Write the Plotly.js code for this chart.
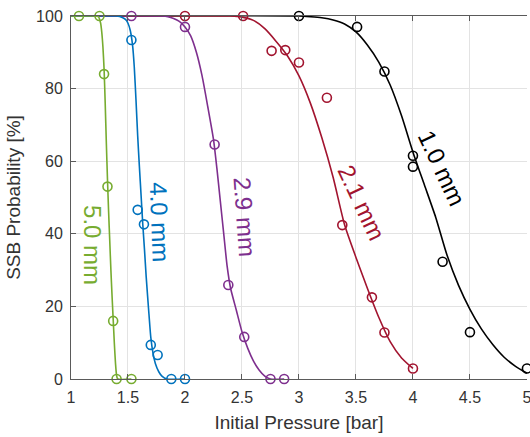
<!DOCTYPE html>
<html>
<head>
<meta charset="utf-8">
<script src="https://cdn.plot.ly/plotly-3.0.1.min.js"></script>
<style>
html,body{margin:0;padding:0;background:#fff;}
#chart{width:530px;height:437px;}
</style>
</head>
<body>
<div id="chart"></div>
<script>
// ---- measured data (circles) ----
var greenX = [1.07, 1.25, 1.29, 1.32, 1.37, 1.40, 1.53];
var greenY = [100, 100, 84, 53, 16, 0, 0];
var blueX = [1.53, 1.585, 1.64, 1.70, 1.76, 1.88, 2.0];
var blueY = [93.4, 46.6, 42.6, 9.4, 6.6, 0, 0];
var purpleX = [1.53, 2.0, 2.26, 2.38, 2.52, 2.75, 2.87];
var purpleY = [100, 97, 64.6, 25.9, 11.6, 0, 0];
var redX = [2.0, 2.51, 2.76, 2.88, 3.0, 3.245, 3.38, 3.64, 3.75, 4.0];
var redY = [100, 100, 90.4, 90.6, 87.2, 77.5, 42.4, 22.5, 12.8, 2.9];
var blackX = [3.0, 3.51, 3.75, 4.0, 4.0, 4.26, 4.5, 5.0];
var blackY = [100, 97, 84.7, 61.5, 58.5, 32.3, 12.9, 2.9];

// ---- fitted curves ----
var greenFitX = [1.0, 1.2, 1.24, 1.26, 1.27, 1.28, 1.29, 1.30, 1.31, 1.32, 1.33, 1.34, 1.35, 1.36, 1.37, 1.38, 1.39, 1.40, 1.41, 1.53];
var greenFitY = [100, 100, 99.8, 98, 95.5, 91.5, 85.5, 76, 65, 55, 46, 38, 30, 23, 16.5, 10, 4.5, 1, 0, 0];
var blueFitX = [1.0, 1.40, 1.45, 1.48, 1.50, 1.52, 1.54, 1.555, 1.57, 1.585, 1.60, 1.615, 1.63, 1.645, 1.66, 1.68, 1.70, 1.72, 1.74, 1.77, 1.80, 1.84, 2.0];
var blueFitY = [100, 100, 99.6, 99, 98, 96, 92, 86, 77, 67, 58.5, 50.5, 42.5, 35.5, 28, 19.5, 11.5, 7, 4.3, 2, 0.7, 0, 0];
var purpleFitX = [1.0, 1.8, 1.85, 1.90, 1.95, 2.0, 2.05, 2.10, 2.15, 2.20, 2.25, 2.28, 2.31, 2.34, 2.37, 2.40, 2.45, 2.50, 2.55, 2.60, 2.65, 2.70, 2.75, 2.87];
var purpleFitY = [100, 100, 99.8, 99.3, 98.5, 97, 94.5, 90, 83.5, 75, 66, 58, 49, 40, 31, 25, 19, 13, 8.5, 5, 2.5, 0.8, 0, 0];
var redFitX = [1.0, 2.4, 2.5, 2.6, 2.7, 2.8, 2.9, 3.0, 3.1, 3.2, 3.3, 3.4, 3.5, 3.6, 3.7, 3.8, 3.9, 4.0];
var redFitY = [100, 100, 99.7, 98.8, 96.5, 93, 89, 83.5, 76, 66.5, 55.5, 42.5, 33.5, 25, 17, 10.3, 5.8, 2.9];
var blackFitX = [1.0, 3.0, 3.1, 3.2, 3.3, 3.4, 3.5, 3.6, 3.7, 3.8, 3.9, 4.0, 4.1, 4.2, 4.3, 4.4, 4.5, 4.6, 4.7, 4.8, 4.9, 5.0];
var blackFitY = [100, 100, 99.8, 99.5, 98.9, 97.8, 95.6, 92, 87.3, 81, 72.5, 62.5, 53.5, 44.5, 34, 25.8, 19.2, 13.8, 9.5, 6, 3.5, 1.6];

var xTicks = [1, 1.5, 2, 2.5, 3, 3.5, 4, 4.5, 5];
var xTickText = ['1', '1.5', '2', '2.5', '3', '3.5', '4', '4.5', '5'];
var yTicks = [0, 20, 40, 60, 80, 100];

var labels = ['1.0 mm', '2.1 mm', '2.9 mm', '4.0 mm', '5.0 mm'];
var labelX = [4.257, 3.546, 2.528, 1.781, 1.193];
var labelY = [58.1, 48.5, 44.6, 43.2, 36.9];
var labelAngle = [65, 65, 86, 88, 90];

var colBlack = '#000000', colRed = '#A2142F', colPurple = '#7E2F8E', colBlue = '#0072BD', colGreen = '#77AC30';
var labelColors = [colBlack, colRed, colPurple, colBlue, colGreen];

function fit(x, y, c) {
  return {x: x, y: y, type: 'scatter', mode: 'lines', line: {color: c, width: 1.6, shape: 'spline', smoothing: 0.6}, hoverinfo: 'skip', showlegend: false};
}
function pts(x, y, c) {
  return {x: x, y: y, type: 'scatter', mode: 'markers', cliponaxis: false,
    marker: {symbol: 'circle-open', size: 9, color: c, line: {color: c, width: 1.6}}, showlegend: false};
}

var traces = [
  fit(blackFitX, blackFitY, colBlack),
  fit(redFitX, redFitY, colRed),
  fit(purpleFitX, purpleFitY, colPurple),
  fit(blueFitX, blueFitY, colBlue),
  fit(greenFitX, greenFitY, colGreen),
  pts(blackX, blackY, colBlack),
  pts(redX, redY, colRed),
  pts(purpleX, purpleY, colPurple),
  pts(blueX, blueY, colBlue),
  pts(greenX, greenY, colGreen)
];

var annotations = labels.map(function (t, i) {
  return {x: labelX[i], y: labelY[i], xref: 'x', yref: 'y', text: t, showarrow: false,
    textangle: labelAngle[i], xanchor: 'center', yanchor: 'middle',
    font: {family: 'Liberation Sans, Arial, sans-serif', size: 24, color: labelColors[i]}};
});

var axisCol = '#5a5a5a';
var layout = {
  width: 530, height: 437,
  margin: {l: 71, r: 3, t: 16, b: 58},
  paper_bgcolor: '#ffffff', plot_bgcolor: '#ffffff',
  font: {family: 'Liberation Sans, Arial, sans-serif', size: 16, color: '#333333'},
  showlegend: false,
  xaxis: {
    range: [1, 5.0005], tickvals: xTicks, ticktext: xTickText,
    showgrid: true, gridcolor: '#e3e3e3', gridwidth: 1, zeroline: false,
    showline: true, linecolor: axisCol, linewidth: 1, mirror: 'ticks',
    ticks: 'inside', ticklen: 5, tickcolor: axisCol, tickwidth: 1,
    tickfont: {size: 16, color: '#333333'}, ticklabelstandoff: 4, ticklabeloverflow: 'allow',
    title: {text: 'Initial Pressure [bar]', font: {size: 19, color: '#333333'}, standoff: 10}
  },
  yaxis: {
    range: [0, 100], tickvals: yTicks,
    showgrid: true, gridcolor: '#e3e3e3', gridwidth: 1, zeroline: false,
    showline: true, linecolor: axisCol, linewidth: 1, mirror: false,
    ticks: 'inside', ticklen: 5, tickcolor: axisCol, tickwidth: 1,
    tickfont: {size: 16, color: '#333333'}, ticklabelstandoff: 4,
    title: {text: 'SSB Probability [%]', font: {size: 19, color: '#333333'}, standoff: 10}
  },
  annotations: annotations
};

Plotly.newPlot('chart', traces, layout, {displayModeBar: false, staticPlot: true});
</script>
</body>
</html>
